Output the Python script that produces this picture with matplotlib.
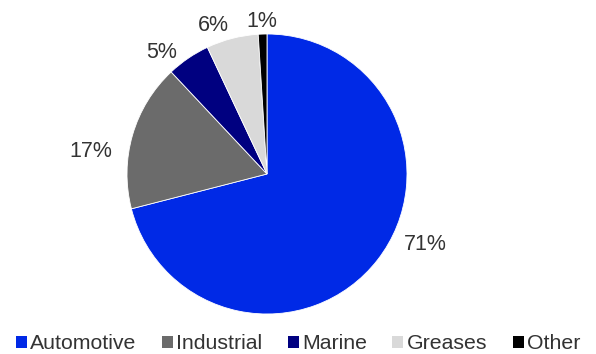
import matplotlib.pyplot as plt
from matplotlib.patches import Patch

plt.rcParams['font.family'] = ['Liberation Sans', 'DejaVu Sans']

# product segment shares
segments = ['Automotive', 'Industrial', 'Marine', 'Greases', 'Other']
shares = [71, 17, 5, 6, 1]
colors = ['#0029E6', '#6B6B6B', '#000080', '#D9D9D9', '#000000']
# where each percentage label sits, in units of the pie radius
label_xy = [(1.129, -0.507), (-1.257, 0.164), (-0.75, 0.871), (-0.386, 1.064), (-0.036, 1.086)]

fig = plt.figure(figsize=(5.96, 3.54), dpi=100)
ax = fig.add_axes([127 / 596, 1 - 314 / 354, 280 / 596, 280 / 354])

wedges, _ = ax.pie(shares, colors=colors, startangle=90, counterclock=False,
                   radius=1, wedgeprops=dict(edgecolor='white', linewidth=0.6))
for val, (x, y) in zip(shares, label_xy):
    ax.text(x, y, '%d%%' % val, ha='center', va='center', fontsize=15.5, color='#333333')

ax.set_xlim(-1, 1)
ax.set_ylim(-1, 1)
ax.set_aspect('equal')
ax.axis('off')

handles = [Patch(facecolor=c, edgecolor='none') for c in colors]
fig.legend(handles, segments, loc='lower center', bbox_to_anchor=(0.5, -0.052), ncol=5,
           frameon=False, fontsize=15.3, handlelength=0.52, handleheight=0.52,
           handletextpad=0.15, columnspacing=1.2, labelcolor='#333333')

fig.savefig('out.png', dpi=100)
